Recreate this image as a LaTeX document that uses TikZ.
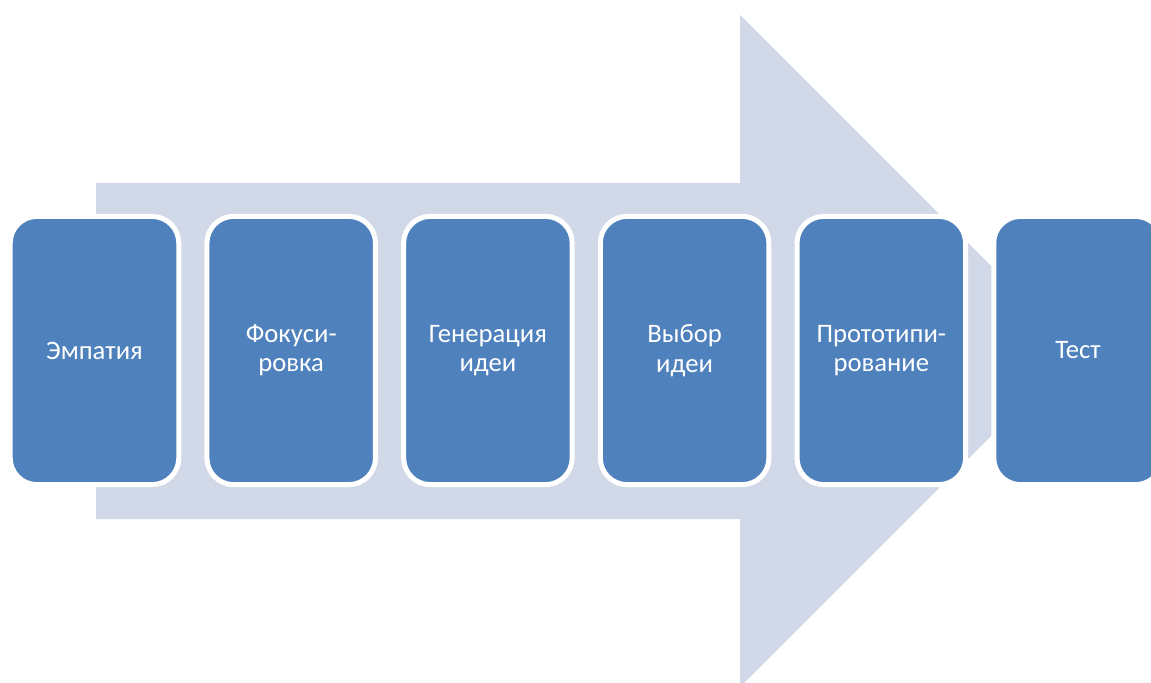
\documentclass[tikz,border=0pt]{standalone}
\usepackage{fontspec}
\setmainfont{Carlito}
\definecolor{arrowfill}{HTML}{D1D8E8}
\definecolor{boxfill}{HTML}{4F81BD}
\begin{document}
\begin{tikzpicture}[x=0.75pt,y=-0.75pt,
  stage/.style={rectangle, rounded corners=20pt, fill=boxfill, draw=white,
    line width=3.75pt, minimum width=126.4pt, minimum height=201.2pt,
    inner sep=0pt, text=white, align=center,
    font=\fontsize{20}{22}\selectfont}]
\useasboundingbox (0,0) rectangle (1151,682);
\clip (0,0) rectangle (1151,682);
\fill[arrowfill] (96,183) -- (740,183) -- (740,15) -- (1076,351) -- (740,687) -- (740,519) -- (96,519) -- cycle;
\node[stage] (s1) at (94.5,350.5) {Эмпатия};
\node[stage] (s2) at (291.2,350.5) {Фокуси-\\ровка};
\node[stage] (s3) at (487.9,350.5) {Генерация\\идеи};
\node[stage] (s4) at (684.6,350.5) {Выбор\\идеи};
\node[stage] (s5) at (881.3,350.5) {Прототипи-\\рование};
\node[stage] (s6) at (1078,350.5) {Тест};
\end{tikzpicture}
\end{document}
